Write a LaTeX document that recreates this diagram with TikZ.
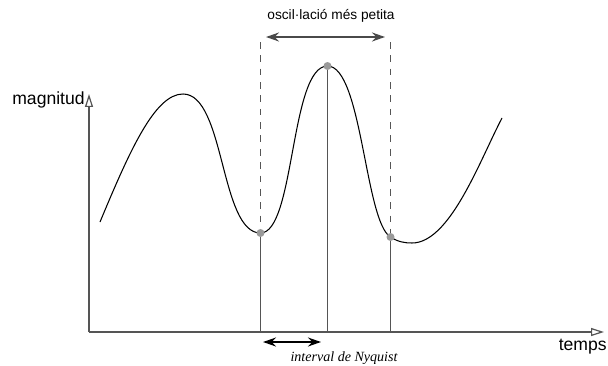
\documentclass[tikz,border=0pt]{standalone}
\usepackage{fontspec}
\setmainfont{Liberation Sans}
\newfontfamily\nyqfont{Liberation Serif}
\usepackage{tikz}
\usetikzlibrary{arrows.meta}
\definecolor{axisgray}{HTML}{555555}
\definecolor{dotgray}{HTML}{9A9A9A}
\definecolor{dimgray}{HTML}{4A4A4A}

\begin{document}
\begin{tikzpicture}[
  x=0.02cm, y=-0.02cm,
  lbl/.style={inner sep=0pt, font=\fontsize{10}{12}\selectfont},
  small/.style={inner sep=0pt, font=\fontsize{7.8}{9}\selectfont},
  nyq/.style={inner sep=0pt, font=\fontsize{8}{10}\selectfont\nyqfont\itshape},
  axis/.style={-{Triangle[open, length=2.6mm, width=1.6mm]}, draw=axisgray, line width=0.7pt},
  curve/.style={draw=black, line width=0.6pt},
  sample/.style={draw=axisgray, line width=0.7pt},
  guide/.style={draw=axisgray, line width=0.6pt, dash pattern=on 3.8pt off 3.8pt},
  dot/.style={circle, fill=dotgray, inner sep=0pt, minimum size=0.16cm},
  dim/.style={{Stealth[length=2.6mm, width=1.8mm]}-{Stealth[length=2.6mm, width=1.8mm]}, line width=1.1pt},
]
\useasboundingbox (0,0) rectangle (608,365);

% Axes
\coordinate (o) at (89,332);
\coordinate (ytip) at (89,94);
\coordinate (xtip) at (604,332);
\draw[axis] (o) -- (ytip);
\draw[axis] (o) -- (xtip);
\node[lbl, anchor=base west] (ylab) at (12,104) {magnitud};
\node[lbl, anchor=base east] (xlab) at (607,350) {temps};

% Samples
\coordinate (s1) at (260.5,233);
\coordinate (s2) at (327.5,66);
\coordinate (s3) at (390.5,237);
\coordinate (b1) at (260.5,332);
\coordinate (b2) at (327.5,332);
\coordinate (b3) at (390.5,332);
\coordinate (t1) at (260.5,42);
\coordinate (t3) at (390.5,42);

% Curve
\draw[curve] (100,222) .. controls (130,150) and (155,94) .. (183,94)
  .. controls (225,94) and (220,233) .. (s1)
  .. controls (295,233) and (290,66) .. (s2)
  .. controls (362,66) and (365,222) .. (s3)
  .. controls (398,242) and (405,243) .. (412,243)
  .. controls (450,243) and (480,160) .. (502,118);

\draw[sample] (s1) -- (b1);
\draw[sample] (s2) -- (b2);
\draw[sample] (s3) -- (b3);
\draw[guide] (t1) -- (s1);
\draw[guide] (t3) -- (s3);
\node[dot] (d1) at (s1) {};
\node[dot] (d2) at (s2) {};
\node[dot] (d3) at (s3) {};

% Intervals
\coordinate (oscl) at (266,37);
\coordinate (oscr) at (385,37);
\draw[dim, draw=dimgray, fill=dimgray] (oscl) -- (oscr);
\node[small, anchor=base] (osc) at (331,19) {oscil·lació més petita};

\coordinate (nyql) at (263,342);
\coordinate (nyqr) at (321,342);
\draw[dim, line width=0.9pt] (nyql) -- (nyqr);
\node[nyq, anchor=base] (nyq) at (344,361) {interval de Nyquist};
\end{tikzpicture}
\end{document}
